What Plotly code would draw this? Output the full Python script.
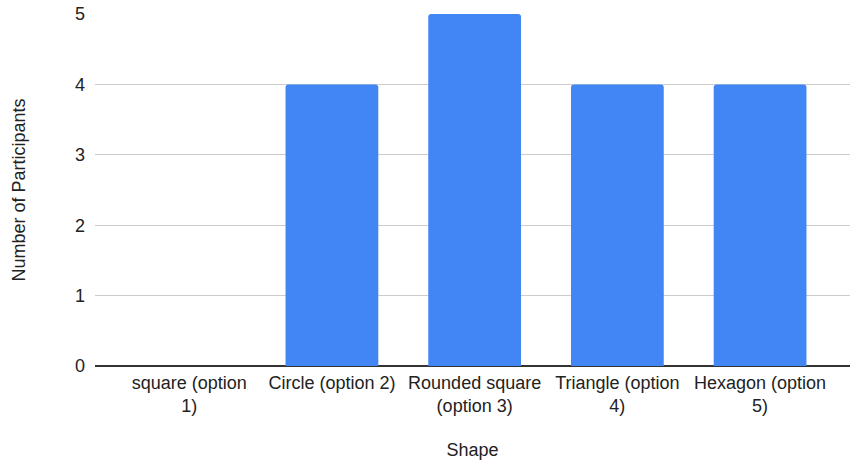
import plotly.graph_objects as go

# Survey results: preferred shape
categories = ["square (option 1)", "Circle (option 2)", "Rounded square (option 3)",
              "Triangle (option 4)", "Hexagon (option 5)"]
tick_labels = ["square (option<br>1)", "Circle (option 2)", "Rounded square<br>(option 3)",
               "Triangle (option<br>4)", "Hexagon (option<br>5)"]
participants = [0, 4, 5, 4, 4]
y_ticks = [0, 1, 2, 3, 4, 5]

FONT = "Liberation Sans, Arial, sans-serif"
TEXT = "#222222"

fig = go.Figure(
    go.Bar(
        x=categories,
        y=participants,
        marker=dict(color="#4285F4", cornerradius=3, line=dict(width=0)),
        width=0.65,
    )
)

fig.update_layout(
    width=854,
    height=461,
    margin=dict(l=95, r=4, t=12, b=95),
    paper_bgcolor="white",
    plot_bgcolor="white",
    showlegend=False,
    font=dict(family=FONT, size=18, color=TEXT),
)

fig.update_xaxes(
    type="category",
    tickmode="array",
    tickvals=categories,
    ticktext=tick_labels,
    range=[-0.66, 4.63],
    showgrid=False,
    showline=False,
    zeroline=False,
    ticks="",
    ticklabelstandoff=4,
    tickfont=dict(size=18, color=TEXT),
    title=dict(text="Shape", font=dict(size=18, color=TEXT), standoff=27),
)

fig.update_yaxes(
    range=[0, 5],
    tickvals=y_ticks,
    showgrid=True,
    gridcolor="#cccccc",
    gridwidth=1,
    zeroline=True,
    zerolinecolor="#333333",
    zerolinewidth=1.5,
    showline=False,
    ticks="",
    ticklabelstandoff=9,
    tickfont=dict(size=18, color=TEXT),
    title=dict(text="Number of Participants", font=dict(size=18, color=TEXT), standoff=44),
)

fig.write_html("out.html")
